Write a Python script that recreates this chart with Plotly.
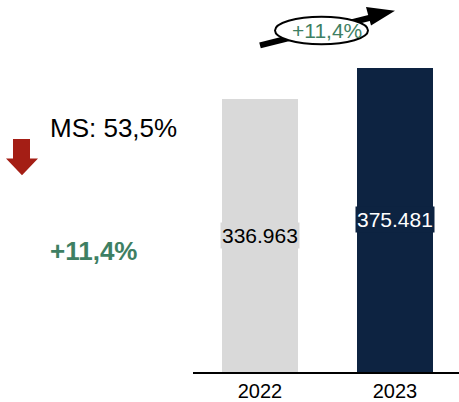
import plotly.graph_objects as go

years = ["2022", "2023"]
values = [336.963, 375.481]
value_labels = ["336.963", "375.481"]
bar_colors = ["#D9D9D9", "#0D2341"]
label_font_colors = ["#000000", "#FFFFFF"]
growth_text = "+11,4%"
ms_text = "MS: 53,5%"

W, H = 459, 402
FONT = "Liberation Sans, Arial, sans-serif"
GREEN = "#3E7F63"
RED = "#A41E15"


def px(x, y):
    return x / W, 1 - y / H


fig = go.Figure()
fig.add_trace(go.Bar(
    x=years, y=values, marker=dict(color=bar_colors, line=dict(width=0)),
    width=0.556, hoverinfo="skip", showlegend=False,
))

annotations = []
for i, (v, lab, bg, fc) in enumerate(zip(values, value_labels, bar_colors, label_font_colors)):
    annotations.append(dict(
        x=i, y=v / 2, xref="x", yref="y", text=lab, showarrow=False,
        xanchor="center", yanchor="middle",
        font=dict(family=FONT, size=21, color=fc), bgcolor=bg, borderpad=1,
    ))

# left texts
x0, y0 = px(48, 130)
annotations.append(dict(x=x0, y=y0, xref="paper", yref="paper", xanchor="left", yanchor="middle",
                        text=ms_text, showarrow=False, font=dict(family=FONT, size=26, color="#000000")))
x0, y0 = px(48, 255)
annotations.append(dict(x=x0, y=y0, xref="paper", yref="paper", xanchor="left", yanchor="middle",
                        text="<b>" + growth_text + "</b>", showarrow=False,
                        font=dict(family=FONT, size=26, color=GREEN)))

shapes = []


def path(points):
    s = ""
    for i, (x, y) in enumerate(points):
        xx, yy = px(x, y)
        s += ("M" if i == 0 else "L") + f"{xx:.5f},{yy:.5f} "
    return s + "Z"


# red down arrow
shapes.append(dict(type="path", xref="paper", yref="paper",
                   path=path([(13, 141), (30, 141), (30, 161), (38, 161), (22, 178), (6, 161), (13, 161)]),
                   fillcolor=RED, line=dict(width=0)))

# black growth arrow
a, b = px(260, 46), px(378, 16)
shapes.append(dict(type="line", xref="paper", yref="paper", x0=a[0], y0=a[1], x1=b[0], y1=b[1],
                   line=dict(color="#000000", width=6)))
shapes.append(dict(type="path", xref="paper", yref="paper",
                   path=path([(395, 11), (371, 26), (366, 7)]),
                   fillcolor="#000000", line=dict(width=0)))
# ellipse
e0, e1 = px(275, 17), px(368, 45)
shapes.append(dict(type="circle", xref="paper", yref="paper", x0=e0[0], y0=e1[1], x1=e1[0], y1=e0[1],
                   fillcolor="#FFFFFF", line=dict(color="#000000", width=2)))
cx, cy = px(327, 31)
annotations.append(dict(x=cx, y=cy, xref="paper", yref="paper", text=growth_text, showarrow=False,
                        xanchor="center", yanchor="middle",
                        font=dict(family=FONT, size=21, color=GREEN)))

fig.update_layout(
    width=W, height=H, margin=dict(l=0, r=0, t=0, b=0),
    paper_bgcolor="#FFFFFF", plot_bgcolor="#FFFFFF",
    xaxis=dict(domain=[193 / W, 1], range=[-0.496, 1.474], type="category",
               showline=True, linecolor="#000000", linewidth=2, ticks="", showgrid=False,
               tickfont=dict(family=FONT, size=20, color="#000000"), zeroline=False),
    yaxis=dict(domain=[24 / H, 1 - 20 / H], range=[0, 434], visible=False, showgrid=False),
    annotations=annotations, shapes=shapes, bargap=0,
)

fig.write_html("out.html", config={"displayModeBar": False},
               post_script="document.body.style.margin='0';")
